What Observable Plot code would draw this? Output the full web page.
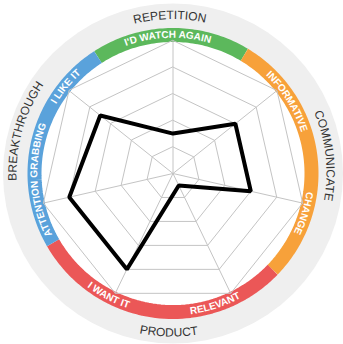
<!DOCTYPE html>
<html><head><meta charset="utf-8">
<script src="https://cdn.jsdelivr.net/npm/d3@7"></script>
<script src="https://cdn.jsdelivr.net/npm/@observablehq/plot@0.6"></script>
<style>html,body{margin:0;padding:0;background:#fff}svg{display:block}</style>
</head><body><div id="chart"></div>
<script>
// ---- data ----
const axes = ["I'D WATCH AGAIN", "INFORMATIVE", "CHANGE", "RELEVANT", "I WANT IT", "ATTENTION GRABBING", "I LIKE IT"];
const values = [1.5, 3, 3, 0.5, 4, 4, 3.5];
const axisGroup = [0, 1, 1, 2, 2, 3, 3];
const groups = ["REPETITION", "COMMUNICATE", "PRODUCT", "BREAKTHROUGH"];
const groupColors = ["#5cb85c", "#f7a13a", "#eb5757", "#5aa2db"];
const ringLevels = [1, 2, 3, 4, 5];
const ringMax = 5;

// ---- layout ----
const W = 343, H = 344, CX = 172.5, CY = 173, UNIT = 26.6;
const deg = Math.PI / 180;
const n = axes.length;
const ang = i => 2 * Math.PI * i / n;
const pt = (a, v) => ({x: v * Math.sin(a), y: v * Math.cos(a)});
const groupSpan = [[-32.8, 31], [31, 134], [134, 240], [240, 327.2]];
const bandR = 138.5 / UNIT;
const innerLabelAngle = [-2, 58, 107, 162, 207.5, 267, 309];
const outerLabelAngle = [-1, 83.5, 181.3, 285.8];
const outerLabelR = [154, 154, 163.5, 156];

const gridData = ringLevels.flatMap(l => axes.map((_, i) => ({ring: l, ...pt(ang(i), l)})));
const spokes = axes.map((name, i) => ({name, ...pt(ang(i), ringMax)}));
const series = axes.map((name, i) => ({name, value: values[i], ...pt(ang(i), values[i])}));
const bandData = groupSpan.flatMap(([a0, a1], g) => d3.range(0, 61).map(k => {
  const a = (a0 + (a1 - a0) * k / 60) * deg;
  return {g, color: groupColors[g], ...pt(a, bandR)};
}));

const plot = Plot.plot({
  width: W, height: H, margin: 0,
  x: {domain: [-CX / UNIT, (W - CX) / UNIT], range: [0, W], axis: null},
  y: {domain: [-(H - CY) / UNIT, CY / UNIT], range: [H, 0], axis: null},
  color: {type: "identity"},
  marks: [
    Plot.dot([0], {x: () => 0, y: () => 0, r: 170, fill: "#efefef"}),
    Plot.dot([0], {x: () => 0, y: () => 0, r: 145, fill: "#ffffff"}),
    Plot.line(bandData, {x: "x", y: "y", z: "g", stroke: "color", strokeWidth: 14, strokeLinecap: "butt", strokeLinejoin: "round"}),
    Plot.line(gridData, {x: "x", y: "y", z: "ring", curve: "linear-closed", stroke: "#c4c4c4", strokeWidth: 1}),
    Plot.link(spokes, {x1: () => 0, y1: () => 0, x2: "x", y2: "y", stroke: "#c4c4c4", strokeWidth: 1}),
    Plot.line(series, {x: "x", y: "y", curve: "linear-closed", stroke: "#000", strokeWidth: 4, strokeLinejoin: "miter"})
  ]
});

// ---- curved labels (positioned through the plot's scales) ----
const xs = plot.scale("x"), ys = plot.scale("y");
const cx = xs.apply(0), cy = ys.apply(0), k = xs.apply(1) - cx;
const svg = d3.select(plot);
const defs = svg.append("defs");
const P = (a, r) => [cx + r * Math.sin(a * deg), cy - r * Math.cos(a * deg)];
let pid = 0;
function arcLabel(text, centerDeg, rUnits, ccw, style) {
  const r = rUnits * k;
  const id = "arc" + (pid++);
  const a0 = ccw ? centerDeg + 90 : centerDeg - 90;
  const a1 = ccw ? centerDeg - 90 : centerDeg + 90;
  const [x0, y0] = P(a0, r), [x1, y1] = P(a1, r);
  defs.append("path").attr("id", id).attr("d", `M${x0},${y0}A${r},${r} 0 0 ${ccw ? 0 : 1} ${x1},${y1}`);
  const t = svg.append("text")
    .attr("font-family", "'Liberation Sans', Arial, sans-serif")
    .attr("font-size", style.size)
    .attr("font-weight", style.weight)
    .attr("fill", style.fill);
  t.append("textPath").attr("href", "#" + id).attr("startOffset", "50%").attr("text-anchor", "middle").text(text);
}
axes.forEach((name, i) => {
  const ccw = innerLabelAngle[i] > 120 && innerLabelAngle[i] < 240;
  arcLabel(name, innerLabelAngle[i], (ccw ? 142.3 : 135.2) / UNIT, ccw, {size: 10, weight: "bold", fill: "#fff"});
});
groups.forEach((name, i) => {
  const ccw = outerLabelAngle[i] > 120 && outerLabelAngle[i] < 240;
  arcLabel(name, outerLabelAngle[i], outerLabelR[i] / UNIT, ccw, {size: 12, weight: "normal", fill: "#333"});
});

document.getElementById("chart").appendChild(plot);
</script>
</body></html>
